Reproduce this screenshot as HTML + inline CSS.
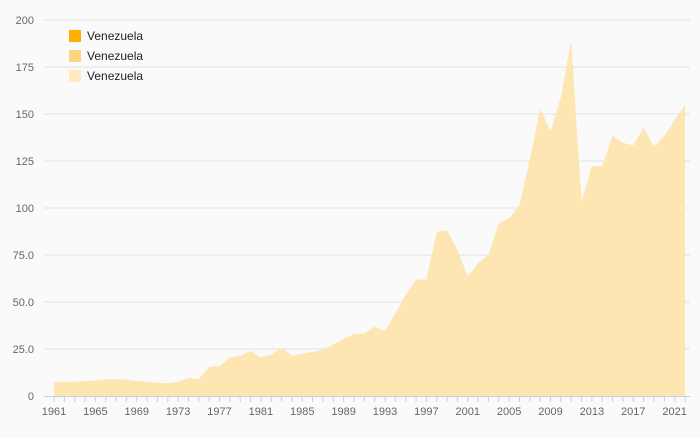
<!DOCTYPE html>
<html><head><meta charset="utf-8"><style>
body{margin:0;background:#fafafa;font-family:"Liberation Sans",sans-serif}
svg text{font-family:"Liberation Sans",sans-serif}
</style></head><body>
<svg id="chart" width="700" height="433" xmlns="http://www.w3.org/2000/svg">
<rect width="700" height="433" fill="#fafafa"/>
<g id="grid"></g><g id="area"></g><g id="xaxis"></g><g id="yaxis"></g>
<g>
<g><rect x="69" y="30" width="12" height="12" fill="#ffb000"/><text x="87" y="40" font-size="12" fill="#222">Venezuela</text></g>
<g><rect x="69" y="50" width="12" height="12" fill="#ffd47e"/><text x="87" y="60" font-size="12" fill="#222">Venezuela</text></g>
<g><rect x="69" y="70" width="12" height="12" fill="#ffebbf"/><text x="87" y="80" font-size="12" fill="#222">Venezuela</text></g>
</g>
</svg>
<script>
const years=[];for(let y=1961;y<=2022;y++)years.push(y);
const values=[7.5,7.5,7.6,8,8.2,8.8,8.9,8.7,8,7.6,7,6.8,7.5,9.5,9,15.5,16,20.5,21.5,24,20.5,22,25.5,21.5,22.5,23.5,24.5,27.5,30.5,33,33.3,36.9,34.6,44,53.7,62,62,87.4,88,77.7,63.5,70.6,75,91.8,94.5,101.6,125.5,153,140.6,159,189,103.4,122.3,122,138.5,134.7,133.3,142.7,132.6,138.3,146.8,154.8];
const yTicks=[0,25,50,75,100,125,150,175,200];
const yTickLabels=["0","25.0","50.0","75.0","100","125","150","175","200"];
const NS="http://www.w3.org/2000/svg";
const x0=54,x1=685,yb=396,yt=20;
const xs=y=>x0+(y-1961)*(x1-x0)/(2022-1961);
const ys=v=>yb-v*(yb-yt)/200;
function mk(t,a,p){const e=document.createElementNS(NS,t);for(const k in a)e.setAttribute(k,a[k]);p.appendChild(e);return e;}
const g=document.getElementById('grid'),ya=document.getElementById('yaxis');
yTicks.forEach((v,i)=>{
 if(v>0){const l=mk('line',{x1:44,x2:690,y1:ys(v),y2:ys(v),stroke:'#e2e2e2','stroke-width':1},g);
 
 }
 const t=mk('text',{x:34,y:ys(v)+4,'text-anchor':'end','font-size':11,fill:'#666'},ya);
 t.textContent=yTickLabels[i];
 
 
});
let d=`M${xs(years[0])},${yb}`;
years.forEach((y,i)=>d+=` L${xs(y)},${ys(values[i])}`);
d+=` L${xs(years[years.length-1])},${yb} Z`;
const p=mk('path',{d:d,fill:'#fde6b2'},document.getElementById('area'));


const xa=document.getElementById('xaxis');
const ax=mk('line',{x1:44,x2:690,y1:yb+0.5,y2:yb+0.5,stroke:'#c5d0e6'},xa);


years.forEach(y=>{
 const tk=mk('line',{x1:xs(y),x2:xs(y),y1:yb,y2:yb+6,stroke:'#c5d0e6'},xa);
 
 
 if((y-1961)%4===0){const t=mk('text',{x:xs(y),y:415,'text-anchor':'middle','font-size':11,fill:'#666'},xa);
 t.textContent=y;
 
 }
});
</script>
</body></html>
